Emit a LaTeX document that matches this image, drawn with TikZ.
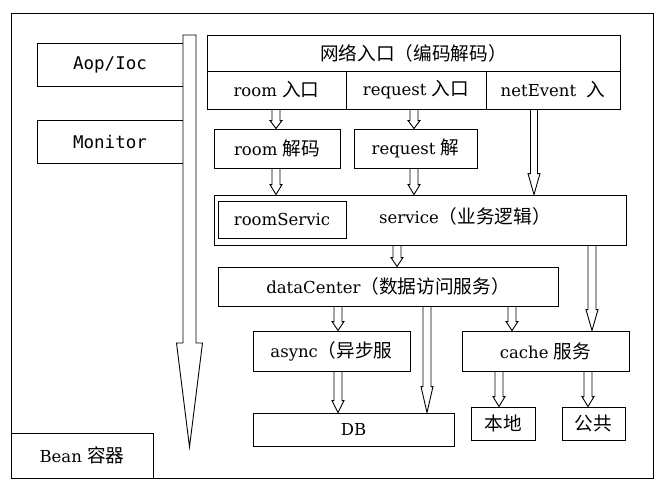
\documentclass[tikz,border=0pt]{standalone}
\usepackage{fontspec}
\setmainfont{DejaVu Serif}
\newfontfamily\cjk[Scale=1.13]{Noto Sans CJK SC}
\newfontfamily\codefont{DejaVu Sans Mono}
\usetikzlibrary{calc}

\tikzset{
  box/.style={shape=rectangle, draw=black, line width=0.9pt, inner sep=0pt},
  fat/.style={draw=black, fill=white, line width=0.9pt},
}

% hollow arrow: x, from, to, shaft half width, head half width, head length
\newcommand{\fatarrow}[6]{%
  \path[fat] let \p1=(#2), \p2=(#3) in
    (#1pt-#4pt,\y1) -- (#1pt+#4pt,\y1) -- (#1pt+#4pt,\y2+#6pt) -- (#1pt+#5pt,\y2+#6pt)
    -- (#1pt,\y2) -- (#1pt-#5pt,\y2+#6pt) -- (#1pt-#4pt,\y2+#6pt) -- cycle;}

\begin{document}
\begin{tikzpicture}[x=1pt, y=-1pt, every node/.style={font=\fontsize{16.5}{19}\selectfont}]
                \useasboundingbox (0,0) rectangle (665,488);
                \draw[line width=0.9pt] (11,13) rectangle (653,478);
                \node[box, minimum width=146pt, minimum height=43pt, font=\codefont\fontsize{17.5}{19}\selectfont] (Aop) at (110,64.5) {Aop/Ioc};
                \node[box, minimum width=146pt, minimum height=43pt, font=\codefont\fontsize{17.5}{19}\selectfont] (Mon) at (110,141.5) {Monitor};
                \node[box, minimum width=142pt, minimum height=45pt] (Bean) at (82,455.5) {Bean {\cjk 容器}};
                \node[box, minimum width=413pt, minimum height=36pt] (Net) at (413.5,53) {\cjk 网络入口（编码解码）};
                \node[box, minimum width=139pt, minimum height=38pt] (Room) at (276.5,90) {room {\cjk 入口}};
                \node[box, minimum width=140pt, minimum height=38pt] (Req) at (416,90) {request {\cjk 入口}};
                \node[box, minimum width=134pt, minimum height=38pt] (Evt) at (553,90) {netEvent\ \ {\cjk 入}};
                \node[box, minimum width=126pt, minimum height=39pt] (RoomDec) at (277,148.5) {room {\cjk 解码}};
                \node[box, minimum width=123pt, minimum height=39pt] (ReqDec) at (415.5,148.5) {request {\cjk 解}};
                \node[box, minimum width=412pt, minimum height=50pt, label={[xshift=45pt, yshift=4pt]center:service{\cjk （业务逻辑）}}] (Svc) at (420,220) {};
                \node[box, minimum width=128pt, minimum height=37pt] (RoomSvc) at (282,219.5) {roomServic};
                \node[box, minimum width=340pt, minimum height=39pt] (Data) at (388,286.5) {dataCenter{\cjk （数据访问服务）}};
                \node[box, minimum width=157pt, minimum height=40pt] (Async) at (331.5,351) {async{\cjk （异步服}};
                \node[box, minimum width=201pt, minimum height=33pt] (DB) at (353.5,429.5) {DB};
                \node[box, minimum width=167pt, minimum height=40pt] (Cache) at (545.5,351) {cache {\cjk 服务}};
                \node[box, minimum width=64pt, minimum height=33pt] (Local) at (503,423.5) {\cjk 本地};
                \node[box, minimum width=63pt, minimum height=33pt] (Pub) at (593.5,423.5) {\cjk 公共};
                \coordinate (Top) at (189.5,35);
                \coordinate (Tip) at (189.5,447);
                \fatarrow{189.5}{Top}{Tip}{6.5}{13}{104}
                \fatarrow{276}{Room.south}{RoomDec.north}{4}{6}{8}
                \fatarrow{414}{Req.south}{ReqDec.north}{4}{6}{8}
                \fatarrow{534}{Evt.south}{Svc.north}{3.5}{6}{21}
                \fatarrow{276}{RoomDec.south}{Svc.north}{4}{6}{10}
                \fatarrow{414}{ReqDec.south}{Svc.north}{4}{6}{10}
                \fatarrow{397}{Svc.south}{Data.north}{4}{6}{9}
                \fatarrow{592}{Svc.south}{Cache.north}{4}{6}{21}
                \fatarrow{338}{Data.south}{Async.north}{4}{6}{9}
                \fatarrow{427}{Data.south}{DB.north}{4}{6}{26}
                \fatarrow{512}{Data.south}{Cache.north}{4}{6}{9}
                \fatarrow{338}{Async.south}{DB.north}{4}{6}{12}
                \fatarrow{499}{Cache.south}{Local.north}{4}{6}{10}
                \fatarrow{588}{Cache.south}{Pub.north}{4}{6}{10}
\end{tikzpicture}
\end{document}
